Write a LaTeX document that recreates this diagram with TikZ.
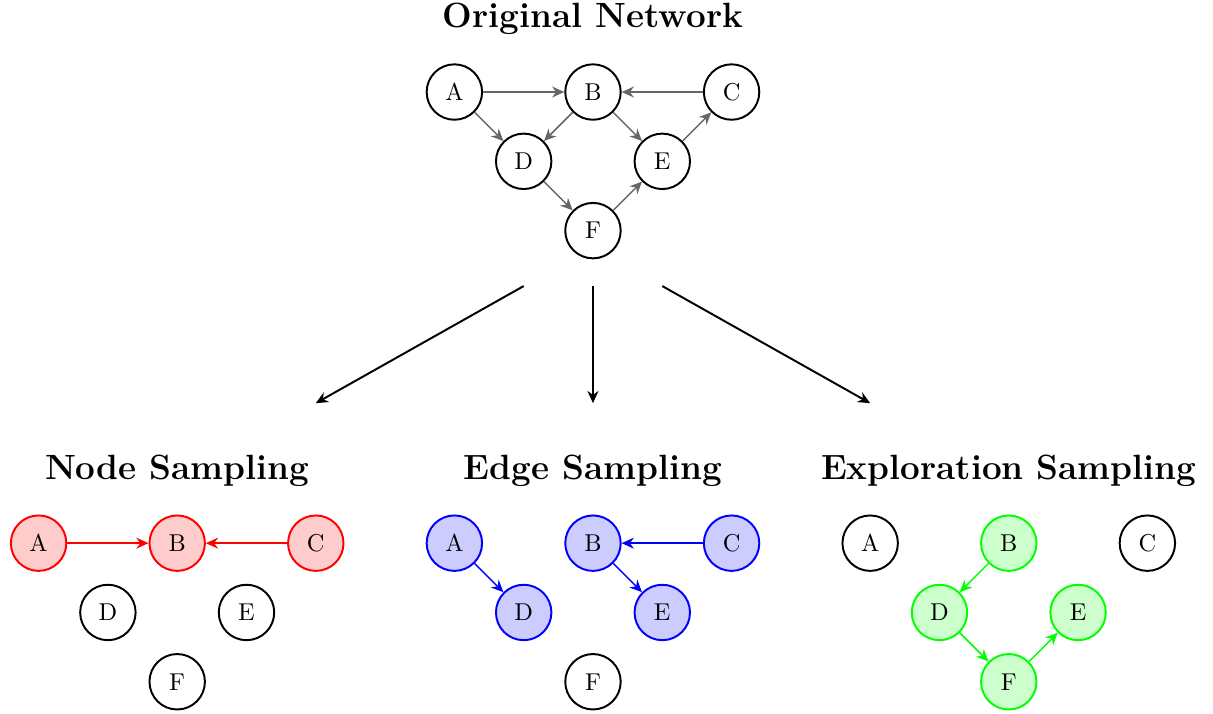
\documentclass[tikz,border=0pt]{standalone}
\usetikzlibrary{arrows.meta}
\begin{document}
\begin{tikzpicture}[
  >={Stealth[length=5pt,width=4.5pt]},
  vtx/.style={circle,draw=black,thick,minimum size=0.8cm,inner sep=0pt,fill=white},
  redv/.style={vtx,draw=red,fill=red!20},
  bluev/.style={vtx,draw=blue,fill=blue!20},
  greenv/.style={vtx,draw=green,fill=green!20},
  gedge/.style={->,semithick,black!60},
  redge/.style={->,semithick,red},
  bedge/.style={->,semithick,blue},
  gnedge/.style={->,semithick,green},
  bigarrow/.style={->,thick,black},
  ttl/.style={font=\Large\bfseries}
]
\useasboundingbox (-8.557,-8.961) rectangle (8.947,1.328);
% Original
\node[ttl] (t0) at (0,1.05) {Original Network};
\node[vtx] (A) at (-2,0) {A};
\node[vtx] (B) at (0,0) {B};
\node[vtx] (C) at (2,0) {C};
\node[vtx] (D) at (-1,-1) {D};
\node[vtx] (E) at (1,-1) {E};
\node[vtx] (F) at (0,-2) {F};
\draw[gedge] (A) -- (B);
\draw[gedge] (C) -- (B);
\draw[gedge] (A) -- (D);
\draw[gedge] (B) -- (D);
\draw[gedge] (B) -- (E);
\draw[gedge] (E) -- (C);
\draw[gedge] (D) -- (F);
\draw[gedge] (F) -- (E);
% big arrows
\coordinate (s1) at (-1,-2.8);
\coordinate (s2) at (0,-2.8);
\coordinate (s3) at (1,-2.8);
\coordinate (e1) at (-4,-4.49);
\coordinate (e2) at (0,-4.49);
\coordinate (e3) at (4,-4.49);
\draw[bigarrow] (s1) -- (e1);
\draw[bigarrow] (s2) -- (e2);
\draw[bigarrow] (s3) -- (e3);
% Node sampling
\begin{scope}[shift={(-6,-6.51)}]
\node[ttl] (t1) at (0,1.05) {Node Sampling};
\node[redv] (nA) at (-2,0) {A};
\node[redv] (nB) at (0,0) {B};
\node[redv] (nC) at (2,0) {C};
\node[vtx] (nD) at (-1,-1) {D};
\node[vtx] (nE) at (1,-1) {E};
\node[vtx] (nF) at (0,-2) {F};
\draw[redge] (nA) -- (nB);
\draw[redge] (nC) -- (nB);
\end{scope}
% Edge sampling
\begin{scope}[shift={(0,-6.51)}]
\node[ttl] (t2) at (0,1.05) {Edge Sampling};
\node[bluev] (eA) at (-2,0) {A};
\node[bluev] (eB) at (0,0) {B};
\node[bluev] (eC) at (2,0) {C};
\node[bluev] (eD) at (-1,-1) {D};
\node[bluev] (eE) at (1,-1) {E};
\node[vtx] (eF) at (0,-2) {F};
\draw[bedge] (eA) -- (eD);
\draw[bedge] (eC) -- (eB);
\draw[bedge] (eB) -- (eE);
\end{scope}
% Exploration sampling
\begin{scope}[shift={(6,-6.51)}]
\node[ttl] (t3) at (0,1.05) {Exploration Sampling};
\node[vtx] (xA) at (-2,0) {A};
\node[greenv] (xB) at (0,0) {B};
\node[vtx] (xC) at (2,0) {C};
\node[greenv] (xD) at (-1,-1) {D};
\node[greenv] (xE) at (1,-1) {E};
\node[greenv] (xF) at (0,-2) {F};
\draw[gnedge] (xB) -- (xD);
\draw[gnedge] (xD) -- (xF);
\draw[gnedge] (xF) -- (xE);
\end{scope}
\end{tikzpicture}
\end{document}
